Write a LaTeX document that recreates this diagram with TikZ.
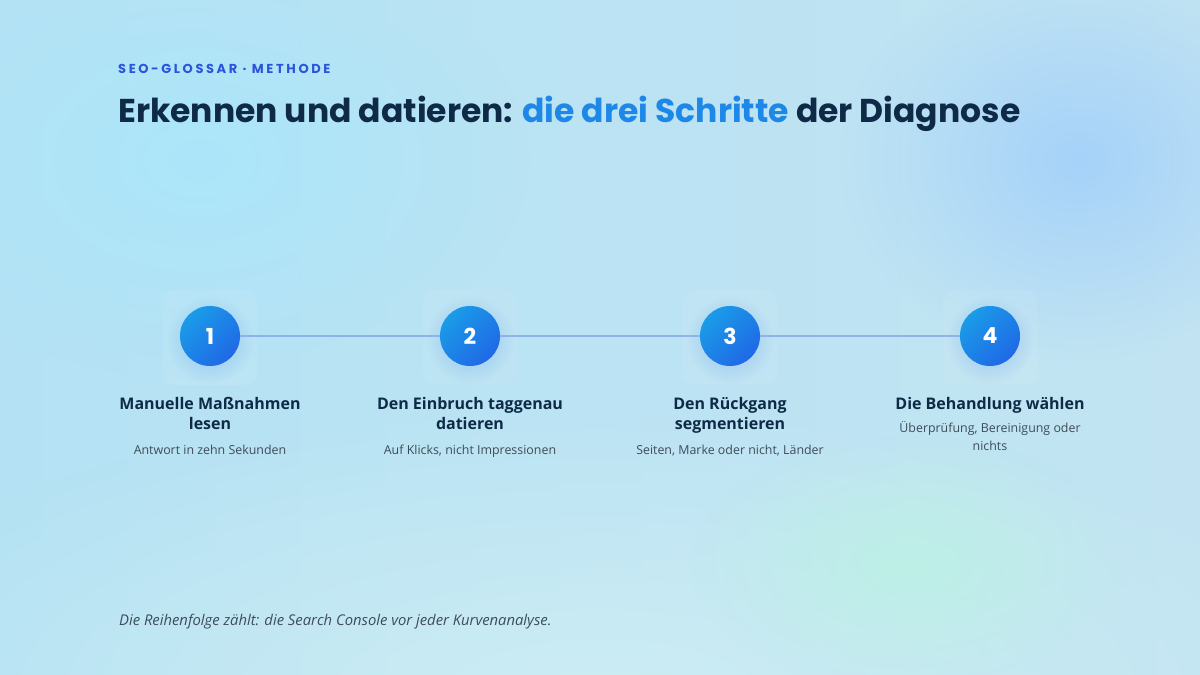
\documentclass[tikz,border=0pt]{standalone}
\usepackage{fontspec}
\setmainfont{Open Sans}
\newfontfamily\titlefont{Poppins}
\newfontfamily\kickerfont{Poppins}[LetterSpace=20]
\usetikzlibrary{fadings}
\tikzfading[name=softblob, inner color=transparent!0, outer color=transparent!100]
\definecolor{navy}{HTML}{0E2A47}
\definecolor{accent}{HTML}{1E88E8}
\definecolor{kicker}{HTML}{2B55D8}
\definecolor{subgray}{HTML}{3E4C5A}
\definecolor{bgleft}{HTML}{B4E2F4}
\definecolor{bgright}{HTML}{C2E4F2}
\definecolor{blobblue}{HTML}{A6D2FA}
\definecolor{blobcyan}{HTML}{ACE6FA}
\definecolor{mint}{HTML}{BDF0E6}
\definecolor{lowlight}{HTML}{CDEDF3}
\definecolor{circA}{HTML}{1A9CE8}
\definecolor{circB}{HTML}{2068E6}
\definecolor{linec}{HTML}{8EB2EA}
\tikzset{
  stepcircle/.style={circle, minimum size=60pt, inner sep=0pt, left color=circA, right color=circB, shading angle=45, text=white, font=\titlefont\bfseries\fontsize{22}{22}\selectfont},
  steptitle/.style={align=center, text=navy, inner sep=0pt, font=\bfseries\fontsize{16}{20}\selectfont},
  stepsub/.style={align=center, text=subgray, inner sep=0pt, font=\fontsize{12.4}{18}\selectfont},
  connector/.style={draw=linec, line width=2pt},
  halo/.style={fill=circB, path fading=softblob, opacity=0.28},
  panel/.style={fill=white, opacity=0.07, rounded corners=12pt}
}
\begin{document}
\begin{tikzpicture}[x=1pt,y=-1pt]
\useasboundingbox (0,0) rectangle (1200,675);
\shade[left color=bgleft, right color=bgright] (0,0) rectangle (1200,675);
\fill[lowlight, path fading=softblob] (600,700) ellipse (800 and 300);
\fill[blobcyan, path fading=softblob] (200,160) ellipse (330 and 220);
\fill[blobblue, path fading=softblob] (1080,160) ellipse (240 and 200);
\fill[mint, path fading=softblob] (910,565) ellipse (220 and 130);

\node[anchor=base west, text=kicker, inner sep=0pt, font=\kickerfont\bfseries\fontsize{13}{13}\selectfont] (kick) at (118,73) {SEO-GLOSSAR · METHODE};
\node[anchor=base west, text=navy, inner sep=0pt, font=\titlefont\bfseries\fontsize{33}{33}\selectfont] (title) at (118,122) {Erkennen und datieren: \textcolor{accent}{die drei Schritte} der Diagnose};

\foreach \x in {210,470,730,990}{
  \fill[panel] (\x-47,290) rectangle (\x+47,385);
  \fill[halo] (\x,340) circle (44);
}
\node[stepcircle] (s1) at (210,336) {1};
\node[stepcircle] (s2) at (470,336) {2};
\node[stepcircle] (s3) at (730,336) {3};
\node[stepcircle] (s4) at (990,336) {4};
\draw[connector] (s1) -- (s2);
\draw[connector] (s2) -- (s3);
\draw[connector] (s3) -- (s4);

\node[steptitle, anchor=base] (t1) at (210,429) {Manuelle Maßnahmen\\lesen};
\node[steptitle, anchor=base] (t2) at (470,429) {Den Einbruch taggenau\\datieren};
\node[steptitle, anchor=base] (t3) at (730,429) {Den Rückgang\\segmentieren};
\node[steptitle, anchor=base] (t4) at (990,409) {Die Behandlung wählen};

\node[stepsub, anchor=base] (d1) at (210,454) {Antwort in zehn Sekunden};
\node[stepsub, anchor=base] (d2) at (470,454) {Auf Klicks, nicht Impressionen};
\node[stepsub, anchor=base] (d3) at (730,454) {Seiten, Marke oder nicht, Länder};
\node[stepsub, anchor=base] (d4) at (990,450) {Überprüfung, Bereinigung oder\\nichts};

\node[anchor=base west, text=subgray, inner sep=0pt, font=\itshape\fontsize{14.8}{14.8}\selectfont] (foot) at (119,625) {Die Reihenfolge zählt: die Search Console vor jeder Kurvenanalyse.};
\end{tikzpicture}
\end{document}
